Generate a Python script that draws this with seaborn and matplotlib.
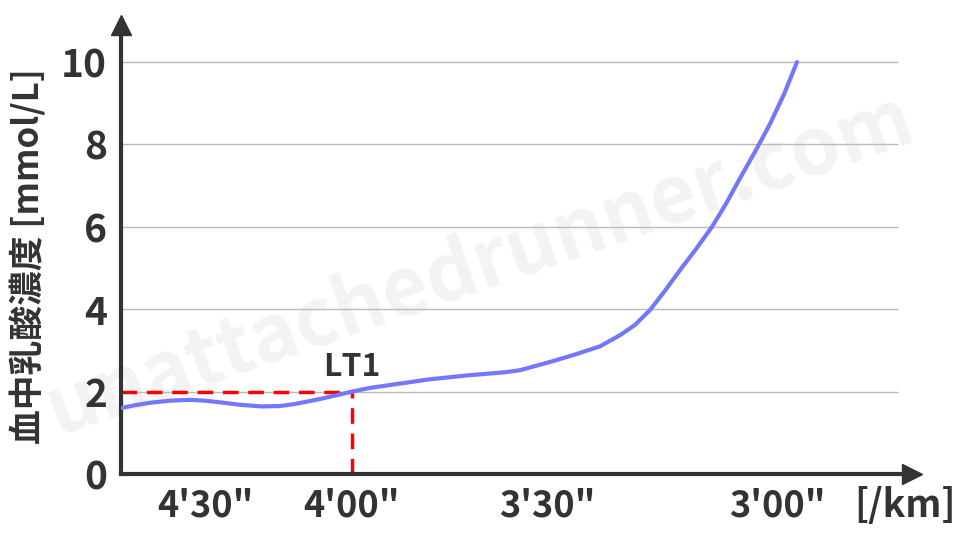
#!/usr/bin/env python3

import pandas as pd
import seaborn as sns
from matplotlib import pyplot as plt

# curve (x in chart position units, y in mmol/L)
pace_pos = [121, 135, 150, 170, 190, 205, 220, 240, 262, 280, 295, 320, 352,
            370, 390, 410, 430, 450, 470, 490, 505, 520, 550, 575, 600, 620,
            635, 650, 665, 680, 696, 712, 726, 740, 755, 770, 784, 797]
lactate = [1.60, 1.67, 1.73, 1.78, 1.80, 1.78, 1.74, 1.68, 1.64, 1.65, 1.70,
           1.82, 2.00, 2.09, 2.16, 2.23, 2.30, 2.35, 2.40, 2.44, 2.47, 2.52,
           2.72, 2.90, 3.10, 3.37, 3.62, 3.98, 4.45, 4.95, 5.46, 6.00, 6.56,
           7.18, 7.82, 8.50, 9.22, 10.0]

tick_pos = [205, 352, 547, 777]
tick_labels = ["4'30\"", "4'00\"", "3'30\"", "3'00\""]
y_ticks = [0, 2, 4, 6, 8, 10]

lt1_pos = 352
lt1_val = 2.0

DARK = "#333333"
JP = ["Noto Sans CJK JP", "DejaVu Sans"]


def plot_curve(fig_location: str = "out.png"):
    sns.set_theme(style="white")
    plt.rcParams["font.family"] = JP
    df = pd.DataFrame({"pos": pace_pos, "lactate": lactate})

    fig = plt.figure(figsize=(9.6, 5.4), dpi=100)
    ax = fig.add_axes([121 / 960, 66 / 540, (912 - 121) / 960, (474 - 25) / 540])
    ax.set_xlim(121, 912)
    ax.set_ylim(0, 10.9)

    # watermark, behind everything in the axes
    ax.text(0.5, 0.51, "unattachedrunner.com", rotation=19, fontsize=57,
            fontweight="bold", color="#f3f3f3", ha="center", va="center",
            transform=fig.transFigure, zorder=0.5)

    ax.hlines(y_ticks[1:], 121, 898, color="#bbbbbb", lw=1, zorder=1)

    sns.lineplot(data=df, x="pos", y="lactate", sort=False, ax=ax,
                 color="#7378fa", lw=3, zorder=3)

    # LT1 guides
    ax.plot([121, lt1_pos], [lt1_val, lt1_val], color="#ff0000", lw=2.5,
            dashes=(4.5, 2.8), zorder=2)
    ax.plot([lt1_pos, lt1_pos], [0, lt1_val], color="#ff0000", lw=2.5,
            dashes=(4.5, 2.8), zorder=2)
    ax.text(lt1_pos, 2.6, "LT1", fontsize=23, fontweight="bold", color=DARK,
            ha="center", va="center", zorder=4)

    for side in ["top", "right"]:
        ax.spines[side].set_visible(False)
    for side in ["left", "bottom"]:
        ax.spines[side].set_color(DARK)
        ax.spines[side].set_linewidth(3)
    ax.plot(912, 0, ">", color=DARK, ms=14, clip_on=False, zorder=5)
    ax.plot(121, 10.9, "^", color=DARK, ms=14, clip_on=False, zorder=5)

    ax.set_yticks(y_ticks)
    ax.set_yticklabels([str(v) for v in y_ticks])
    ax.set_xticks(tick_pos)
    ax.set_xticklabels(tick_labels)
    ax.tick_params(axis="y", length=0, pad=10, labelsize=28, labelcolor=DARK)
    ax.tick_params(axis="x", length=0, pad=10, labelsize=26, labelcolor=DARK)
    for lab in ax.get_xticklabels() + ax.get_yticklabels():
        lab.set_fontweight("bold")
    ax.set_xlabel("")
    ax.set_ylabel("")

    fig.text(28 / 960, 1 - 256 / 540, "血中乳酸濃度 [mmol/L]", rotation=90,
             fontsize=25, fontweight="bold", color=DARK, ha="center", va="center")
    fig.text(905 / 960, 1 - 505 / 540, "[/km]", fontsize=27, fontweight="bold",
             color=DARK, ha="center", va="center")

    fig.savefig(fig_location, dpi=100)


if __name__ == "__main__":
    plot_curve()
